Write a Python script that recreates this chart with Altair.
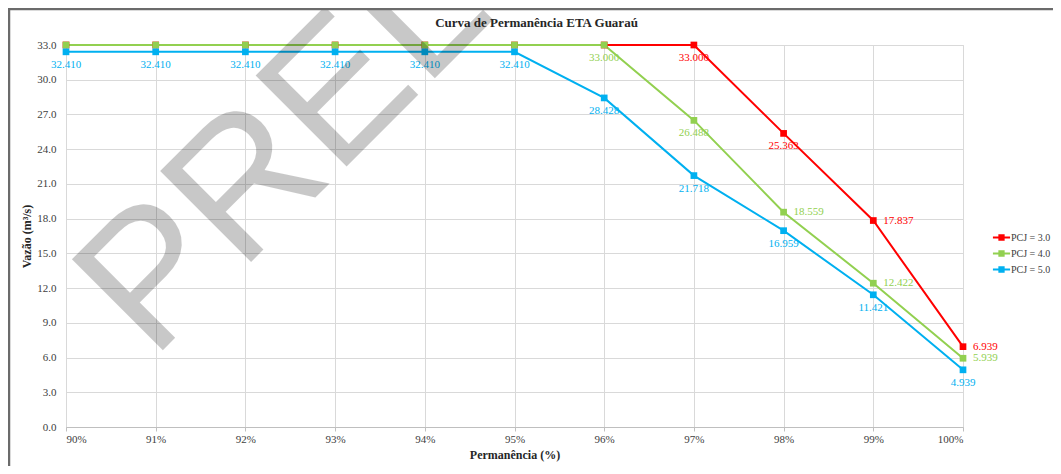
import altair as alt
import pandas as pd

series = ["PCJ = 3.0", "PCJ = 4.0", "PCJ = 5.0"]
colors = ["#ff0000", "#92d050", "#00b0f0"]
perm = [90, 91, 92, 93, 94, 95, 96, 97, 98, 99, 100]
pcj3 = [33.0, 33.0, 33.0, 33.0, 33.0, 33.0, 33.0, 33.000, 25.363, 17.837, 6.939]
pcj4 = [33.0, 33.0, 33.0, 33.0, 33.0, 33.0, 33.000, 26.488, 18.559, 12.422, 5.939]
pcj5 = [32.410, 32.410, 32.410, 32.410, 32.410, 32.410, 28.428, 21.718, 16.959, 11.421, 4.939]
show3 = [0, 0, 0, 0, 0, 0, 0, 1, 1, 1, 1]
show4 = [0, 0, 0, 0, 0, 0, 1, 1, 1, 1, 1]
show5 = [1, 1, 1, 1, 1, 1, 1, 1, 1, 1, 1]
side3 = ["b", "b", "b", "b", "b", "b", "b", "b", "b", "r", "r"]
side4 = ["b", "b", "b", "b", "b", "b", "b", "b", "r", "r", "r"]
side5 = ["b", "b", "b", "b", "b", "b", "b", "b", "b", "b", "b"]
y_ticks = [0, 3, 6, 9, 12, 15, 18, 21, 24, 27, 30, 33]
title_text = ["Curva de Permanência ETA Guaraú"]
watermark_text = ["PRELIMINAR"]

rows = []
for s, vals, shows, sides in zip(series, [pcj3, pcj4, pcj5], [show3, show4, show5], [side3, side4, side5]):
    for p, v, sh, sd in zip(perm, vals, shows, sides):
        rows.append({"serie": s, "perm": p, "vazao": v, "show": sh, "side": sd,
                     "label": f"{v:.3f}"})
df = pd.DataFrame(rows)

SERIF = "Liberation Serif"
W, H = 897, 382

x = alt.X("perm:Q", scale=alt.Scale(domain=[90, 100], nice=False),
          axis=alt.Axis(values=perm, labelExpr="datum.value + '%'",
                        title="Permanência (%)", titleFontWeight="bold",
                        titleFontSize=12, titleFont=SERIF, titlePadding=5,
                        titleColor="#262626",
                        labelFont=SERIF, labelFontSize=11, labelColor="#404040",
                        gridColor="#d9d9d9", domainColor="#bfbfbf",
                        tickColor="#bfbfbf", tickSize=4, labelPadding=2))
y = alt.Y("vazao:Q", scale=alt.Scale(domain=[0, 33], nice=False),
          axis=alt.Axis(values=y_ticks, format=".1f", title="Vazão (m³/s)",
                        titleFontWeight="bold", titleFontSize=12, titleFont=SERIF,
                        titlePadding=3, titleColor="#262626",
                        labelFont=SERIF, labelFontSize=11, labelColor="#404040",
                        gridColor="#d9d9d9", domain=False, ticks=False, labelPadding=10))
cscale = alt.Scale(domain=series, range=colors)
color = alt.Color("serie:N", scale=cscale,
                  legend=alt.Legend(title=None, orient="none", legendX=928, legendY=185,
                                    labelFont=SERIF, labelFontSize=10, labelColor="#404040",
                                    symbolType="M -1.4 0 L 1.4 0 M -0.35 -0.35 L 0.35 -0.35 L 0.35 0.35 L -0.35 0.35 Z",
                                    symbolSize=150, symbolStrokeWidth=2, rowPadding=2,
                                    labelOffset=2))
color_nl = alt.Color("serie:N", scale=cscale, legend=None)

base = alt.Chart(df)

watermark = alt.Chart(pd.DataFrame({"t": watermark_text})).mark_text(
    font="Liberation Sans", fontSize=187, angle=315, align="left", baseline="alphabetic",
    color="#000000", opacity=0.21
).encode(text="t:N", x=alt.value(86), y=alt.value(316))

title = alt.Chart(pd.DataFrame({"t": title_text})).mark_text(
    font=SERIF, fontSize=13, fontWeight="bold", color="#262626",
    align="center", baseline="middle"
).encode(text="t:N", x=alt.value(W / 2 + 22), y=alt.value(-22))

border = alt.Chart(pd.DataFrame({"a": [0]})).mark_rect(
    fill=None, stroke="#6b6b6b", strokeWidth=2.5
).encode(x=alt.value(-57), x2=alt.value(1000), y=alt.value(-36), y2=alt.value(425))

lines = base.mark_line(strokeWidth=2).encode(x=x, y=y, color=color)
points = base.mark_square(size=45, opacity=1).encode(x=x, y=y, color=color_nl)

below = base.transform_filter("datum.show == 1 && datum.side == 'b'").mark_text(
    font=SERIF, fontSize=11, dy=13, baseline="middle", align="center"
).encode(x=x, y=y, text="label:N", color=color_nl)
right = base.transform_filter("datum.show == 1 && datum.side == 'r'").mark_text(
    font=SERIF, fontSize=11, dx=10, baseline="middle", align="left"
).encode(x=x, y=y, text="label:N", color=color_nl)

chart = alt.layer(lines, points, below, right, watermark, title, border).properties(
    width=W, height=H,
    autosize=alt.AutoSizeParams(type="none"),
    padding={"left": 58, "top": 37, "right": 90, "bottom": 39},
).configure_view(stroke="#a6a6a6", strokeWidth=1).configure(background="white")

chart.save("out.html", embed_options={"renderer": "svg", "actions": False})
